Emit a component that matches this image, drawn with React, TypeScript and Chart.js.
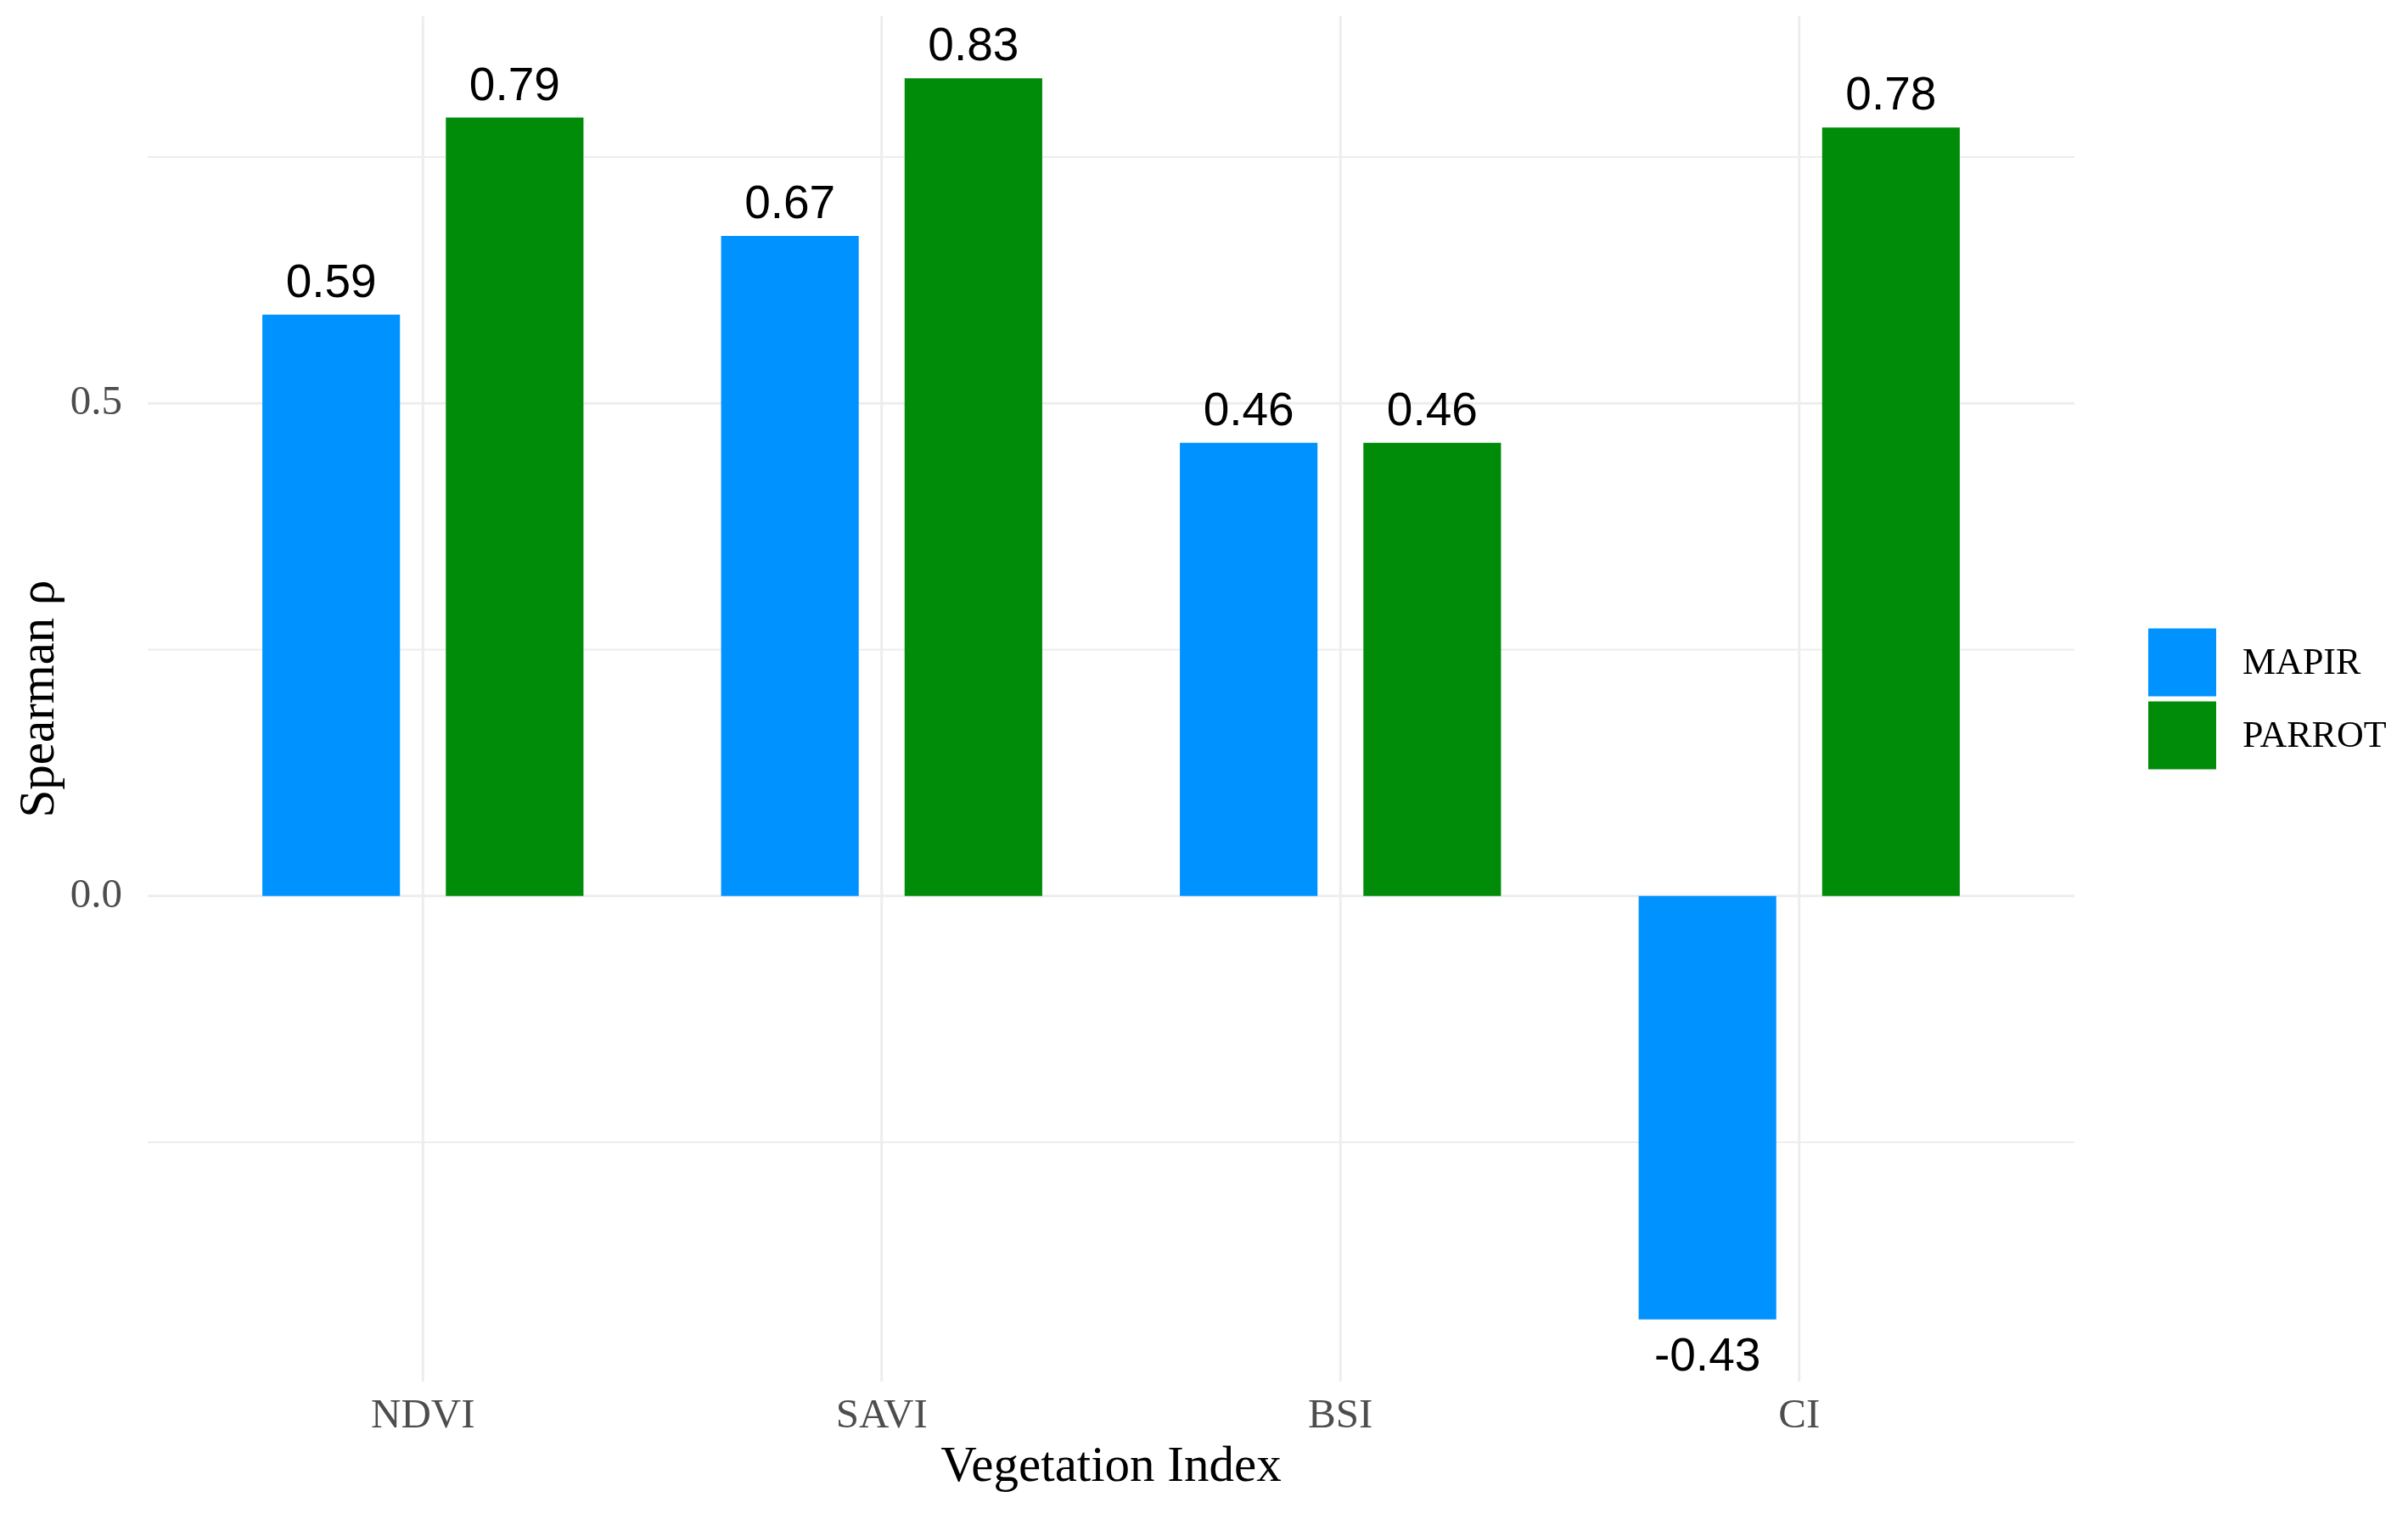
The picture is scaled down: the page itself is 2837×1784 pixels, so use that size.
import React, { useEffect, useRef } from 'react';
import { Chart, registerables } from 'chart.js';

Chart.register(...registerables);

// data
const categories = ['NDVI', 'SAVI', 'BSI', 'CI'];
const mapirValues = [0.59, 0.67, 0.46, -0.43];
const parrotValues = [0.79, 0.83, 0.46, 0.78];
const seriesNames = ['MAPIR', 'PARROT'];
const seriesColors = ['#0092FF', '#008B08'];
const yTickValues = [0, 0.5];
const majorGridValues = [0, 0.5];
const minorGridValues = [-0.25, 0.25, 0.75];

// ggplot-style 5% expansion of the data range
const allValues = [...mapirValues, ...parrotValues];
const dataMin = Math.min(...allValues);
const dataMax = Math.max(...allValues);
const yMin = dataMin - (dataMax - dataMin) * 0.05;
const yMax = dataMax + (dataMax - dataMin) * 0.05;

const W = 2837;
const H = 1784;

const serif = "'Liberation Serif', 'Times New Roman', serif";
const sans = "'Liberation Sans', Arial, sans-serif";

const gridPlugin = {
  id: 'ggGrid',
  beforeDatasetsDraw(chart: any) {
    const { ctx, chartArea, scales } = chart;
    const x = scales.x;
    const y = scales.y;
    const step = x.getPixelForValue(1) - x.getPixelForValue(0);
    const left = x.getPixelForValue(0) - 0.6 * step;
    const right = x.getPixelForValue(categories.length - 1) + 0.6 * step;
    ctx.save();
    ctx.strokeStyle = '#EDEDED';
    ctx.lineWidth = 2;
    minorGridValues.forEach((v) => {
      const py = y.getPixelForValue(v);
      ctx.beginPath();
      ctx.moveTo(left, py);
      ctx.lineTo(right, py);
      ctx.stroke();
    });
    ctx.lineWidth = 3;
    majorGridValues.forEach((v) => {
      const py = y.getPixelForValue(v);
      ctx.beginPath();
      ctx.moveTo(left, py);
      ctx.lineTo(right, py);
      ctx.stroke();
    });
    categories.forEach((_, i) => {
      const px = x.getPixelForValue(i);
      ctx.beginPath();
      ctx.moveTo(px, chartArea.top);
      ctx.lineTo(px, chartArea.bottom);
      ctx.stroke();
    });
    ctx.restore();
  },
};

const labelPlugin = {
  id: 'barLabels',
  afterDatasetsDraw(chart: any) {
    const { ctx } = chart;
    ctx.save();
    ctx.font = `55px ${sans}`;
    ctx.fillStyle = '#000000';
    ctx.textAlign = 'center';
    ctx.textBaseline = 'alphabetic';
    chart.data.datasets.forEach((ds: any, di: number) => {
      const meta = chart.getDatasetMeta(di);
      meta.data.forEach((bar: any, i: number) => {
        const v = ds.data[i];
        const ty = v >= 0 ? bar.y - 21 : bar.y + 60;
        ctx.fillText(v.toFixed(2), bar.x, ty);
      });
    });
    ctx.restore();
  },
};

const legendPlugin = {
  id: 'sideLegend',
  afterDraw(chart: any) {
    const { ctx, chartArea } = chart;
    const cy = (chartArea.top + chartArea.bottom) / 2;
    const key = 80;
    const gap = 6;
    const keyX = 2531;
    const textX = 2642;
    const top = cy - key - gap / 2;
    ctx.save();
    ctx.font = `44px ${serif}`;
    ctx.textAlign = 'left';
    ctx.textBaseline = 'middle';
    chart.data.datasets.forEach((ds: any, i: number) => {
      const ky = top + i * (key + gap);
      ctx.fillStyle = ds.backgroundColor;
      ctx.fillRect(keyX, ky, key, key);
      ctx.fillStyle = '#000000';
      ctx.fillText(ds.label, textX, ky + key / 2 + 2);
    });
    ctx.restore();
  },
};

const App: React.FC = () => {
  const chartRef = useRef<HTMLCanvasElement | null>(null);

  useEffect(() => {
    document.body.style.margin = '0';
    if (!chartRef.current) return;
    const ctx = chartRef.current.getContext('2d');

    const chart = new Chart(ctx!, {
      type: 'bar',
      data: {
        labels: categories,
        datasets: [
          {
            label: seriesNames[0],
            data: mapirValues,
            backgroundColor: seriesColors[0],
            borderWidth: 0,
            categoryPercentage: 0.8,
            barPercentage: 0.75,
          },
          {
            label: seriesNames[1],
            data: parrotValues,
            backgroundColor: seriesColors[1],
            borderWidth: 0,
            categoryPercentage: 0.8,
            barPercentage: 0.75,
          },
        ],
      },
      options: {
        responsive: false,
        animation: false,
        devicePixelRatio: 1,
        layout: { padding: { top: 19, right: 447, bottom: 0, left: 0 } },
        plugins: {
          legend: { display: false },
          tooltip: { enabled: false },
        },
        scales: {
          x: {
            offset: true,
            grid: { display: false, drawTicks: false },
            border: { display: false },
            ticks: {
              padding: 12,
              color: '#4D4D4D',
              font: { family: serif, size: 49 },
            },
            title: {
              display: true,
              text: 'Vegetation Index',
              color: '#000000',
              font: { family: serif, size: 59 },
              padding: { top: 0, bottom: 19 },
            },
            afterFit: (scale: any) => {
              scale.height = 156;
              scale.paddingLeft = 0;
              scale.paddingRight = 0;
            },
          },
          y: {
            min: yMin,
            max: yMax,
            grid: { display: false, drawTicks: false },
            border: { display: false },
            afterBuildTicks: (axis: any) => {
              axis.ticks = yTickValues.map((v) => ({ value: v }));
            },
            ticks: {
              padding: 84,
              color: '#4D4D4D',
              font: { family: serif, size: 49 },
              callback: (v: any) => Number(v).toFixed(1),
            },
            title: {
              display: true,
              text: 'Spearman ρ',
              color: '#000000',
              font: { family: serif, size: 59 },
              padding: { top: 12, bottom: 0 },
            },
            afterFit: (scale: any) => {
              scale.width = 228;
              scale.paddingTop = 0;
              scale.paddingBottom = 0;
            },
          },
        },
      },
      plugins: [gridPlugin, labelPlugin, legendPlugin],
    });

    return () => {
      chart.destroy();
    };
  }, []);

  return (
    <div style={{ width: W, height: H, background: '#ffffff' }}>
      <canvas ref={chartRef} width={W} height={H} style={{ display: 'block' }}></canvas>
    </div>
  );
};

export default App;
